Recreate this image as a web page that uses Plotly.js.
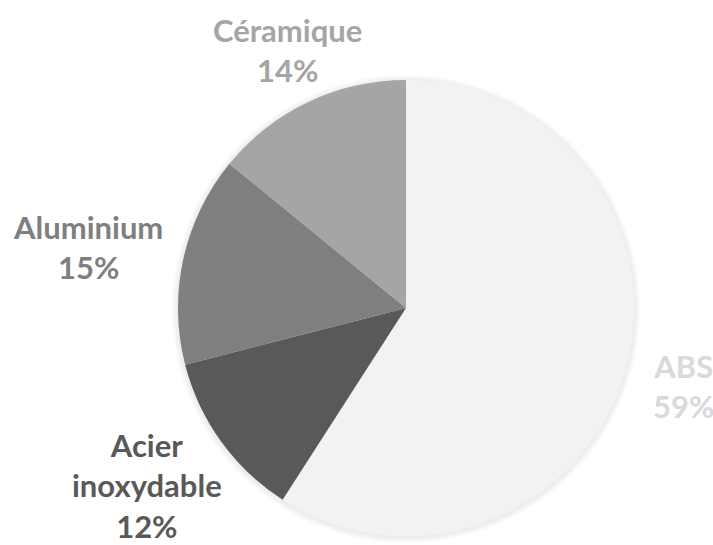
<!DOCTYPE html>
<html><head><meta charset="utf-8">
<script src="https://cdn.plot.ly/plotly-3.0.1.min.js"></script>
<style>html,body{margin:0;padding:0;background:#fff;}#chart{width:713px;height:545px;}</style>
</head><body><div id="chart"></div>
<script>
// Data
const categories = ['ABS', 'Acier inoxydable', 'Aluminium', 'Céramique'];
const values = [59.1, 11.9, 14.9, 14.1];
const sliceColors = ['#f2f2f2', '#595959', '#7f7f7f', '#a5a5a5'];
const labelColors = ['#d9d9d9', '#595959', '#7f7f7f', '#a5a5a5'];

// Layout geometry (pixels)
const W = 713, H = 545;
const cx = 406, cy = 308, R = 228;
const labelCenters = [[683, 386], [147, 485], [88, 247], [287, 50]];

const total = values.reduce((a, b) => a + b, 0);
const annotations = categories.map((c, i) => ({
  x: labelCenters[i][0] / W,
  y: 1 - labelCenters[i][1] / H,
  xref: 'paper', yref: 'paper',
  xanchor: 'center', yanchor: 'middle',
  showarrow: false,
  align: 'center',
  text: c.replace(' ', '<br>') + '<br>' + Math.round(values[i] / total * 100) + '%',
  font: {family: 'Lato', size: 31, weight: 'bold', color: labelColors[i]}
}));

const shadows = [6, 4, 2].map((d, k) => ({
  type: 'circle', xref: 'paper', yref: 'paper', layer: 'below',
  x0: (cx - R - d) / W, x1: (cx + R + d) / W,
  y0: 1 - (cy + R + d + 1) / H, y1: 1 - (cy - R - d + 1) / H,
  fillcolor: 'rgba(0,0,0,0.025)', line: {width: 0}
}));

const trace = {
  type: 'pie',
  labels: categories,
  values: values,
  sort: false,
  direction: 'clockwise',
  rotation: 0,
  textinfo: 'none',
  hoverinfo: 'label+percent',
  marker: {colors: sliceColors, line: {width: 0}},
  domain: {x: [(cx - R) / W, (cx + R) / W], y: [1 - (cy + R) / H, 1 - (cy - R) / H]}
};

Plotly.newPlot('chart', [trace], {
  width: W, height: H,
  margin: {l: 0, r: 0, t: 0, b: 0},
  paper_bgcolor: '#ffffff',
  showlegend: false,
  annotations: annotations,
  shapes: shadows
}, {displayModeBar: false, staticPlot: true});
</script>
</body></html>
